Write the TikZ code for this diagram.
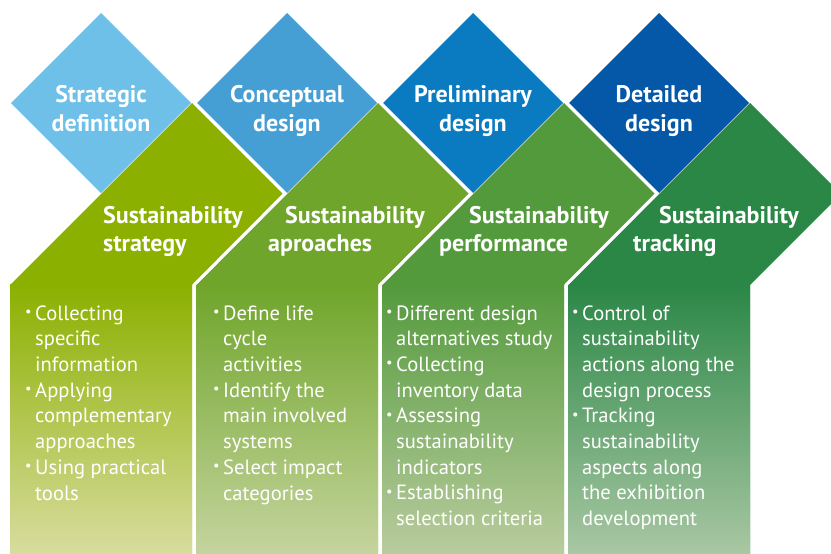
\documentclass[tikz,border=0pt]{standalone}
\usepackage{fontspec}
\setmainfont{PT Sans}
\usepackage{graphicx}
\definecolor{dA}{HTML}{6EC0E8}
\definecolor{dB}{HTML}{459FD5}
\definecolor{dC}{HTML}{0A7BC1}
\definecolor{dD}{HTML}{0558A8}
\definecolor{gA}{HTML}{8BB000}
\definecolor{gB}{HTML}{6FA52A}
\definecolor{gC}{HTML}{539A3C}
\definecolor{gD}{HTML}{2A8746}
\definecolor{pA}{HTML}{D8DC9E}
\definecolor{pB}{HTML}{C5D49E}
\definecolor{pC}{HTML}{B9CC9E}
\definecolor{pD}{HTML}{A9C7A3}
\newcommand\bul{\llap{\raisebox{0.17em}{\scalebox{0.7}{•}}\hspace{3.5pt}}}
\tikzset{
  btitle/.style={text=white, inner sep=0pt, align=center, anchor=base,
    font=\fontsize{24}{29}\selectfont\bfseries},
  gtitle/.style={text=white, inner sep=0pt, anchor=base west,
    font=\fontsize{24}{28}\selectfont\bfseries},
  bodytext/.style={text=white, inner sep=0pt, align=left, anchor=base west,
    font=\fontsize{20.6}{25.7}\selectfont},
  sep/.style={draw=white, line width=3pt}
}
\begin{document}
\begin{tikzpicture}[x=1pt,y=-1pt]
\useasboundingbox (0,0) rectangle (831,554);
\clip (0,0) rectangle (831,554);
% diamonds
\foreach \cx/\col in {101/dA,287/dB,473/dC,659/dD}{
  \fill[\col] (\cx,13) -- (\cx+90,103) -- (\cx,193) -- (\cx-90,103) -- cycle;
}
% green chevrons
\foreach \cx/\col/\pal in {101/gA/pA,287/gB/pB,473/gC/pC,659/gD/pD}{
  \fill[\col] (\cx-91,285) -- (\cx+91,103) -- (\cx+182,194) -- (\cx+91,285)
     -- (\cx+91,554) -- (\cx-91,554) -- cycle;
  \shade[top color=\col, bottom color=\pal] (\cx-91,284) rectangle (\cx+91,554);
}
% white separators
\foreach \cx in {287,473,659}{
  \draw[sep] (\cx-92.5,103) -- (\cx-2,193.5) -- (\cx-93,285) -- (\cx-93,560);
}
% blue titles (anchor = baseline of last line)
\node[btitle] (b1) at (101,131) {Strategic\\definition};
\node[btitle] (b2) at (287,131) {Conceptual\\design};
\node[btitle] (b3) at (473,131) {Preliminary\\design};
\node[btitle] (b4) at (659,131) {Detailed\\design};
% green titles
\node[gtitle] (g1a) at (103,223) {Sustainability};
\node[gtitle] (g1b) at (103,251) {strategy};
\node[gtitle] (g2a) at (285,223) {Sustainability};
\node[gtitle] (g2b) at (268,251) {aproaches};
\node[gtitle] (g3a) at (469,223) {Sustainability};
\node[gtitle] (g3b) at (439,251) {performance};
\node[gtitle] (g4a) at (659,223) {Sustainability};
\node[gtitle] (g4b) at (633,251) {tracking};
% bodies (anchor = baseline of last line)
\node[bodytext] (x1) at (35,500) {\bul Collecting\\specific\\information\\\bul Applying\\complementary\\approaches\\\bul Using practical\\tools};
\node[bodytext] (x2) at (223,500) {\bul Define life\\cycle\\activities\\\bul Identify the\\main involved\\systems\\\bul Select impact\\categories};
\node[bodytext] (x3) at (396,525.6) {\bul Different design\\alternatives study\\\bul Collecting\\inventory data\\\bul Assessing\\sustainability\\indicators\\\bul Establishing\\selection criteria};
\node[bodytext] (x4) at (582,525.6) {\bul Control of\\sustainability\\actions along the\\design process\\\bul Tracking\\sustainability\\aspects along\\the exhibition\\development};
\end{tikzpicture}
\end{document}
